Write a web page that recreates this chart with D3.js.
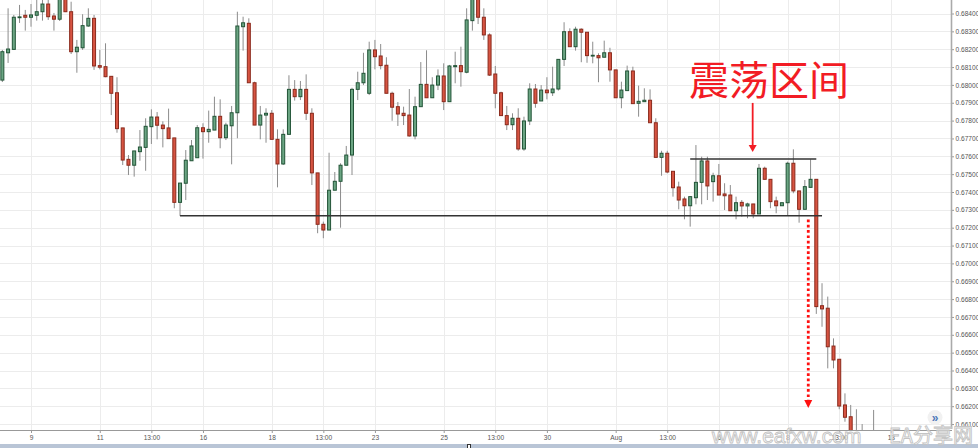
<!DOCTYPE html>
<html><head><meta charset="utf-8">
<script src="https://cdn.jsdelivr.net/npm/d3@7"></script>
<style>html,body{margin:0;padding:0;background:#fff;overflow:hidden}</style>
</head><body><svg id="c" width="978" height="448"></svg>
<script>
// ---- data (4h candles, index order) ----
const opens = [0.68027,0.68180,0.68199,0.68379,0.68390,0.68379,0.68390,0.68410,0.68453,0.68386,0.68368,0.68492,0.68410,0.68186,0.68208,0.68330,0.68373,0.68108,0.68102,0.68048,
0.67956,0.67759,0.67583,0.67550,0.67626,0.67650,0.67766,0.67820,0.67775,0.67759,0.67703,0.67342,0.67449,0.67575,0.67592,0.67760,0.67738,0.67747,0.67824,0.67704,
0.67771,0.67844,0.68326,0.68345,0.68012,0.67775,0.67831,0.67841,0.67695,0.67557,0.67723,0.67975,0.67934,0.67975,0.67841,0.67507,0.67219,0.67187,0.67410,0.67460,
0.67550,0.67607,0.67975,0.68012,0.67953,0.68196,0.68162,0.68110,0.67953,0.67878,0.67841,0.67831,0.67714,0.67878,0.68003,0.67928,0.67999,0.68050,0.67906,0.68102,
0.68108,0.68071,0.68360,0.68492,0.68379,0.68280,0.68061,0.67956,0.67828,0.67777,0.67813,0.67641,0.67798,0.67977,0.67910,0.67971,0.67956,0.67977,0.68143,0.68298,
0.68214,0.68312,0.68295,0.68164,0.68164,0.68155,0.68180,0.68084,0.67928,0.67968,0.68078,0.67897,0.67906,0.67914,0.67788,0.67594,0.67617,0.67516,0.67428,0.67361,
0.67323,0.67368,0.67454,0.67574,0.67458,0.67491,0.67389,0.67383,0.67295,0.67342,0.67322,0.67333,0.67277,0.67533,0.67471,0.67350,0.67323,0.67340,0.67561,0.67406,
0.67303,0.67426,0.67471,0.66763,0.66749,0.66537,0.66463,0.66207,0.66141,0.66040,0.66030,0.66040,0.66040];
const highs = [0.68196,0.68429,0.68392,0.68448,0.68420,0.68453,0.68476,0.68480,0.68480,0.68403,0.68504,0.68504,0.68466,0.68252,0.68396,0.68429,0.68392,0.68196,0.68233,0.68049,
0.68043,0.67759,0.67607,0.67630,0.67747,0.67813,0.67863,0.67848,0.67796,0.67867,0.67703,0.67450,0.67635,0.67691,0.67775,0.67785,0.67856,0.67934,0.67919,0.67788,
0.67882,0.68410,0.68382,0.68373,0.68018,0.67882,0.67869,0.67859,0.67751,0.67751,0.68054,0.68027,0.68022,0.68059,0.67869,0.67507,0.67234,0.67620,0.67512,0.67561,
0.67658,0.67984,0.68074,0.68180,0.68242,0.68252,0.68229,0.68155,0.67962,0.67904,0.67878,0.67977,0.67934,0.68128,0.68194,0.68043,0.68087,0.68121,0.68112,0.68186,
0.68214,0.68429,0.68504,0.68504,0.68429,0.68289,0.68106,0.67962,0.67882,0.67841,0.67869,0.67822,0.68009,0.68005,0.67999,0.68043,0.68102,0.68143,0.68351,0.68317,
0.68326,0.68317,0.68295,0.68242,0.68177,0.68248,0.68208,0.68084,0.68018,0.68108,0.68102,0.67996,0.67981,0.67975,0.67813,0.67631,0.67631,0.67516,0.67458,0.67374,
0.67374,0.67663,0.67598,0.67598,0.67508,0.67557,0.67449,0.67439,0.67374,0.67355,0.67340,0.67333,0.67557,0.67542,0.67471,0.67374,0.67340,0.67570,0.67639,0.67406,
0.67467,0.67583,0.67471,0.66889,0.66814,0.66580,0.66463,0.66272,0.66207,0.66183,0.66100,0.66060,0.66179];
const lows = [0.68016,0.68123,0.68196,0.68347,0.68304,0.68326,0.68360,0.68360,0.68364,0.68304,0.68358,0.68408,0.68173,0.68068,0.68196,0.68325,0.68084,0.68087,0.68043,0.67831,
0.67732,0.67551,0.67495,0.67486,0.67575,0.67519,0.67669,0.67695,0.67650,0.67699,0.67309,0.67266,0.67355,0.67575,0.67592,0.67587,0.67676,0.67747,0.67645,0.67691,
0.67555,0.67701,0.68192,0.68011,0.67775,0.67695,0.67676,0.67695,0.67426,0.67551,0.67723,0.67912,0.67915,0.67803,0.67439,0.67169,0.67141,0.67187,0.67410,0.67200,
0.67550,0.67495,0.67915,0.67999,0.67943,0.68087,0.68087,0.67953,0.67799,0.67770,0.67775,0.67710,0.67695,0.67878,0.67928,0.67928,0.67971,0.67859,0.67906,0.68009,
0.67990,0.68065,0.68304,0.68341,0.68252,0.68050,0.67869,0.67826,0.67747,0.67747,0.67631,0.67631,0.67775,0.67872,0.67910,0.67919,0.67938,0.67968,0.68106,0.68214,
0.68192,0.68127,0.68124,0.68121,0.68015,0.68155,0.68018,0.67928,0.67869,0.67968,0.67895,0.67822,0.67906,0.67788,0.67594,0.67491,0.67505,0.67374,0.67303,0.67247,
0.67206,0.67331,0.67331,0.67355,0.67346,0.67383,0.67299,0.67295,0.67247,0.67262,0.67253,0.67253,0.67277,0.67471,0.67309,0.67281,0.67323,0.67271,0.67393,0.67228,
0.67303,0.67426,0.66717,0.66645,0.66412,0.66412,0.66183,0.66113,0.65955,0.65940,0.65960,0.65980,0.65990];
const closes = [0.68186,0.68201,0.68379,0.68381,0.68379,0.68392,0.68410,0.68453,0.68382,0.68368,0.68492,0.68410,0.68186,0.68211,0.68332,0.68373,0.68106,0.68099,0.68046,0.67953,
0.67755,0.67579,0.67550,0.67630,0.67652,0.67768,0.67820,0.67774,0.67755,0.67699,0.67342,0.67450,0.67578,0.67658,0.67760,0.67738,0.67751,0.67824,0.67704,0.67775,
0.67844,0.68330,0.68348,0.68012,0.67775,0.67831,0.67841,0.67695,0.67557,0.67723,0.67975,0.67934,0.67975,0.67841,0.67507,0.67219,0.67187,0.67410,0.67460,0.67550,
0.67607,0.67975,0.68012,0.68065,0.68196,0.68158,0.68108,0.67953,0.67875,0.67837,0.67828,0.67714,0.67878,0.68003,0.67928,0.67999,0.68050,0.67906,0.68106,0.68108,
0.68074,0.68364,0.68492,0.68379,0.68280,0.68055,0.67953,0.67828,0.67777,0.67813,0.67641,0.67798,0.67977,0.67897,0.67971,0.67956,0.67977,0.68143,0.68298,0.68214,
0.68312,0.68295,0.68164,0.68166,0.68152,0.68180,0.68084,0.67928,0.67971,0.68078,0.67895,0.67908,0.67914,0.67788,0.67594,0.67617,0.67512,0.67424,0.67355,0.67323,
0.67374,0.67454,0.67574,0.67434,0.67491,0.67383,0.67379,0.67295,0.67340,0.67322,0.67333,0.67277,0.67533,0.67471,0.67346,0.67323,0.67340,0.67561,0.67406,0.67303,
0.67430,0.67471,0.66758,0.66745,0.66533,0.66459,0.66201,0.66138,0.66011,0.65990,0.66000,0.66010,0.66020];

const xTickIdx    = [5,17,26,35,47,56,65,77,86,95,107,116,125,137,146,155];
const xTickLabels = ["9","11","13:00","16","18","13:00","23","25","13:00","30","Aug","13:00","6","8","13:00","13"];
const yTicks = [0.661,0.662,0.663,0.664,0.665,0.666,0.667,0.668,0.669,0.670,0.671,0.672,0.673,0.674,0.675,0.676,0.677,0.678,0.679,0.680,0.681,0.682,0.683,0.684];

// annotations, in data terms [index, price]
const supportLine = {from:31, to:143, price:0.67267};
const rangeTop    = {from:120, to:142, price:0.67585};
const titleText = "震荡区间";
const arrowSolid  = {idx:130.9, from:0.67899, to:0.67624};
const arrowDotted = {idx:140.6, from:0.67246, to:0.66190};

// ---- drawing ----
const W=978,H=448, plotR=951, plotB=430;
const svg=d3.select("#c");
const x=d3.scaleLinear().domain([0,165.5]).range([2.35,plotR]);
const y=d3.scaleLinear().domain([0.661,0.684]).range([424.05,13.5]);
const candles = opens.map((o,i)=>({i,o,h:highs[i],l:lows[i],c:closes[i]}));

svg.append("rect").attr("width",W).attr("height",H).attr("fill","#fff");
const defs=svg.append("defs");
defs.append("clipPath").attr("id","plot").append("rect").attr("x",0).attr("y",0).attr("width",plotR).attr("height",plotB);

const grid=svg.append("g").attr("stroke","#ececec").attr("stroke-width",1);
grid.selectAll("line.h").data(yTicks).join("line").attr("x1",0).attr("x2",plotR)
  .attr("y1",d=>Math.round(y(d))+0.5).attr("y2",d=>Math.round(y(d))+0.5);
grid.selectAll("line.v").data(xTickIdx).join("line").attr("y1",0).attr("y2",plotB)
  .attr("x1",d=>Math.round(x(d))+0.5).attr("x2",d=>Math.round(x(d))+0.5);

const g=svg.append("g").attr("clip-path","url(#plot)");
g.selectAll("line.wick").data(candles).join("line")
  .attr("x1",d=>x(d.i)).attr("x2",d=>x(d.i)).attr("y1",d=>y(d.h)).attr("y2",d=>y(d.l))
  .attr("stroke","#8c8c8c").attr("stroke-width",1);
g.selectAll("rect.body").data(candles).join("rect")
  .attr("x",d=>x(d.i)-1.5).attr("width",3)
  .attr("y",d=>y(Math.max(d.o,d.c)))
  .attr("height",d=>Math.max(0.8,Math.abs(y(d.o)-y(d.c))))
  .attr("fill",d=>d.c>=d.o?"#6ba583":"#d75442")
  .attr("stroke",d=>d.c>=d.o?"#225437":"#8a2a1c").attr("stroke-width",1);

// horizontal range lines
[supportLine,rangeTop].forEach(s=>{
  svg.append("line").attr("x1",x(s.from)).attr("x2",x(s.to)).attr("y1",y(s.price)).attr("y2",y(s.price))
   .attr("stroke","#333").attr("stroke-width",1.5);
});

// title
svg.append("text").attr("x",689).attr("y",95).text(titleText)
  .attr("font-family","'Noto Sans CJK SC',sans-serif").attr("font-size",40).attr("fill","#f21c24");

// solid arrow
const ax=x(arrowSolid.idx), ay0=y(arrowSolid.from), ay1=y(arrowSolid.to);
svg.append("line").attr("x1",ax).attr("x2",ax).attr("y1",ay0).attr("y2",ay1-6).attr("stroke","#f21c24").attr("stroke-width",1.8);
svg.append("path").attr("d",`M${ax-4},${ay1-7}L${ax+4},${ay1-7}L${ax},${ay1}Z`).attr("fill","#f21c24");

// dotted arrow
const dx=x(arrowDotted.idx), dy0=y(arrowDotted.from), dy1=y(arrowDotted.to);
svg.append("line").attr("x1",dx).attr("x2",dx).attr("y1",dy0).attr("y2",dy1-8).attr("stroke","#ff1010")
  .attr("stroke-width",2.8).attr("stroke-dasharray","2.7,2.6");
svg.append("path").attr("d",`M${dx-4},${dy1-8}L${dx+4},${dy1-8}L${dx},${dy1}Z`).attr("fill","#ff1010");

// axes
const font="'Liberation Sans',Arial,sans-serif";
const yAx=svg.append("g").attr("transform",`translate(${plotR},0)`)
  .call(d3.axisRight(y).tickValues(yTicks).tickFormat(d3.format(".5f")).tickSize(3).tickPadding(1.5));
yAx.select(".domain").remove();
yAx.selectAll("line").attr("stroke","#999");
yAx.selectAll("text").attr("font-family",font).attr("font-size",6.6).attr("fill","#555");
svg.append("line").attr("x1",plotR+0.5).attr("x2",plotR+0.5).attr("y1",0).attr("y2",429).attr("stroke","#aaa").attr("stroke-width",1.6);

const xAx=svg.append("g").attr("transform",`translate(0,${plotB})`)
  .call(d3.axisBottom(x).tickValues(xTickIdx).tickFormat((d,i)=>xTickLabels[i]).tickSize(3).tickPadding(2.5));
xAx.select(".domain").remove();
xAx.selectAll("line").attr("stroke","#999");
xAx.selectAll("text").attr("font-family",font).attr("font-size",6.6).attr("fill","#555");
svg.append("line").attr("x1",0).attr("x2",plotR+1).attr("y1",plotB+0.5).attr("y2",plotB+0.5).attr("stroke","#999").attr("stroke-width",1);

// scroll button
svg.append("circle").attr("cx",935).attr("cy",417.5).attr("r",7.5).attr("fill","#f1f1f1");
svg.append("text").attr("x",935).attr("y",421.5).attr("text-anchor","middle").text("»")
  .attr("font-family",font).attr("font-size",12).attr("font-weight","bold").attr("fill","#4f78b8");

// bottom bar
svg.append("rect").attr("x",0).attr("y",444).attr("width",W).attr("height",4).attr("fill","#b9c5d6");
svg.append("rect").attr("x",467.5).attr("y",444.5).attr("width",3).attr("height",5).attr("fill","#fff").attr("stroke","#333").attr("stroke-width",1);

// watermark
svg.append("text").attr("x",712).attr("y",443).text("www.eafxw.com")
  .attr("font-family",font).attr("font-size",21).attr("fill","rgba(255,255,255,0.55)").attr("stroke","#c4c4c4").attr("stroke-width",0.9);
svg.append("text").attr("x",889).attr("y",443).text("EA分享网")
  .attr("font-family","'Noto Sans CJK SC',sans-serif").attr("font-size",20).attr("fill","rgba(255,255,255,0.55)").attr("stroke","#c4c4c4").attr("stroke-width",0.9);
</script></body></html>
